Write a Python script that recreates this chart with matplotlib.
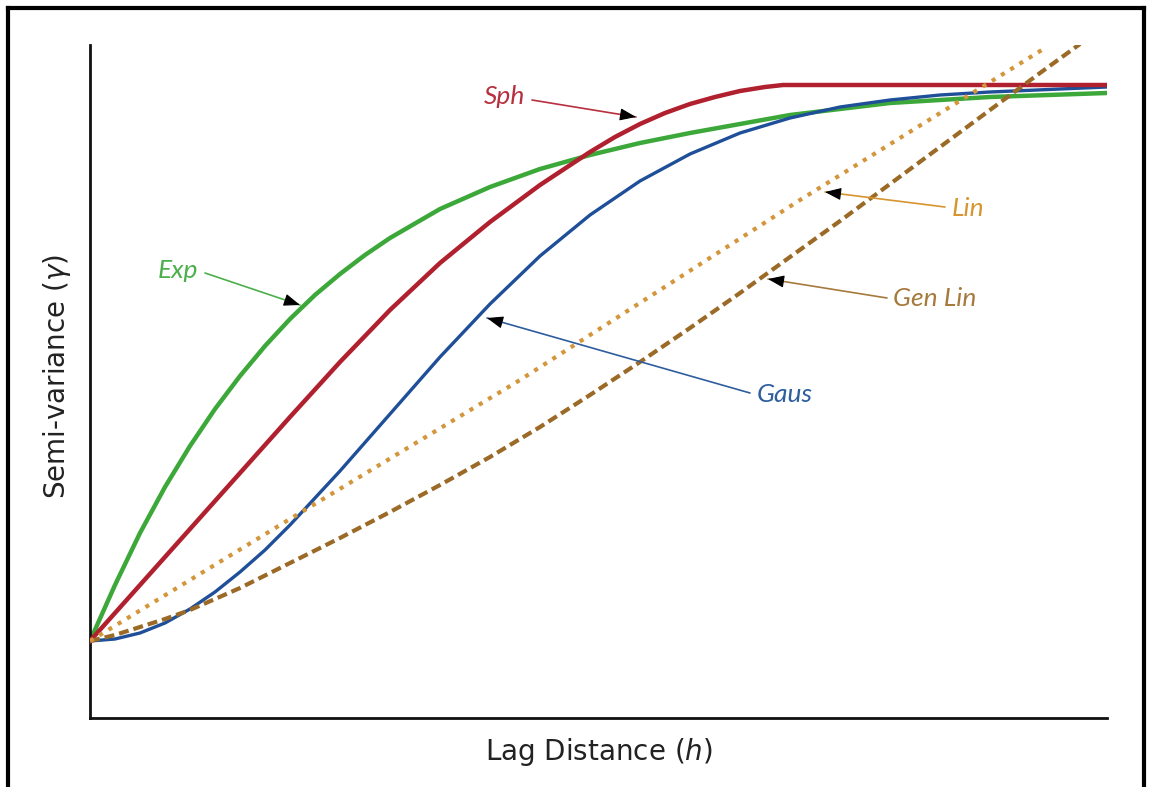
import numpy as np
import matplotlib
matplotlib.use("Agg")
import matplotlib.pyplot as plt
from matplotlib.lines import Line2D

# ---- data (lag h, semi-variance gamma; arbitrary units) ----
exp_h = [0, 0.25, 0.5, 0.75, 1.0, 1.25, 1.5, 1.75, 2.0, 2.25, 2.5, 2.75, 3.0, 3.5, 4.0, 4.5,
         5.0, 5.5, 6.0, 7.0, 8.0, 9.0, 10.17]
exp_g = [0.77, 1.33, 1.85, 2.31, 2.72, 3.09, 3.42, 3.72, 3.99, 4.23, 4.44, 4.63, 4.80, 5.09, 5.31, 5.49,
         5.63, 5.75, 5.85, 6.03, 6.15, 6.21, 6.25]

sph_h = [0, 0.5, 1.0, 1.5, 2.0, 2.5, 3.0, 3.5, 4.0, 4.5, 5.0, 5.25, 5.5, 5.75, 6.0, 6.25, 6.5,
         6.75, 6.93, 10.17]
sph_g = [0.77, 1.33, 1.89, 2.45, 3.01, 3.56, 4.08, 4.55, 4.96, 5.33, 5.66, 5.81, 5.94, 6.05, 6.14, 6.21, 6.27,
         6.31, 6.33, 6.33]

gaus_h = [0, 0.25, 0.5, 0.75, 1.0, 1.25, 1.5, 1.75, 2.0, 2.5, 3.0, 3.5, 4.0, 4.5, 5.0, 5.5, 6.0,
          6.5, 7.0, 7.5, 8.0, 8.5, 9.0, 10.17]
gaus_g = [0.77, 0.79, 0.85, 0.95, 1.09, 1.26, 1.46, 1.68, 1.93, 2.47, 3.04, 3.61, 4.14, 4.62, 5.03, 5.37, 5.64,
          5.85, 6.00, 6.11, 6.18, 6.23, 6.26, 6.31]

lin_h = [0, 2.0, 4.3, 7.1, 9.55]
lin_g = [0.77, 1.99, 3.38, 5.18, 6.70]

genlin_h = [0, 0.25, 0.5, 0.75, 1.0, 1.5, 2.0, 2.5, 3.0, 3.5, 4.0, 4.5, 5.0, 5.5, 6.0, 6.5,
            7.0, 7.5, 8.0, 8.5, 9.0, 9.5, 9.9]
genlin_g = [0.77, 0.83, 0.91, 0.99, 1.08, 1.30, 1.55, 1.80, 2.06, 2.33, 2.61, 2.91, 3.23, 3.56, 3.90, 4.25,
            4.61, 4.97, 5.34, 5.71, 6.08, 6.45, 6.74]

labels = ["Exp", "Sph", "Gaus", "Lin", "Gen Lin"]

# colours
C_EXP, C_SPH, C_GAUS = "#3da83a", "#b0202e", "#1e4f98"
C_LIN, C_GEN = "#d4963c", "#9b6a26"
T_EXP, T_SPH, T_GAUS, T_LIN, T_GEN = "#4caf4c", "#b8303f", "#2e5e9e", "#d6952f", "#a67a3c"

fig = plt.figure(figsize=(11.5, 7.87), dpi=100)
ax = fig.add_axes([90 / 1150, 69 / 787, 1017 / 1150, 673 / 787])

ax.plot(exp_h, exp_g, color=C_EXP, lw=3.2, solid_joinstyle="round", zorder=2)
ax.plot(gaus_h, gaus_g, color=C_GAUS, lw=2.4, solid_joinstyle="round", zorder=3)
ax.plot(sph_h, sph_g, color=C_SPH, lw=3.2, solid_joinstyle="round", zorder=4)
ax.plot(genlin_h, genlin_g, color=C_GEN, lw=3.0, linestyle=(0, (2.4, 1.2)), zorder=5)
ax.plot(lin_h, lin_g, color=C_LIN, lw=3.0, linestyle=(0, (1.0, 1.6)), zorder=6)

ax.set_xlim(0, 10.17)
ax.set_ylim(0, 6.73)
ax.set_xticks([])
ax.set_yticks([])
for s in ["top", "right"]:
    ax.spines[s].set_visible(False)
for s in ["left", "bottom"]:
    ax.spines[s].set_linewidth(2.0)
    ax.spines[s].set_color("#111111")

plt.rcParams["mathtext.fontset"] = "dejavusans"
ax.set_xlabel(r"Lag Distance ($h$)", fontsize=20, color="#222222", va="center")
ax.xaxis.set_label_coords(0.5, -0.05)
ax.set_ylabel(r"Semi-variance ($\gamma$)", fontsize=20, color="#222222", va="center")
ax.yaxis.set_label_coords(-0.0325, 0.507)

# annotations: (label, text xy, ha, line start, arrow tip, text colour)
notes = [
    ("Exp", (1.08, 4.48), "right", (1.15, 4.45), (2.10, 4.13), T_EXP),
    ("Sph", (4.35, 6.21), "right", (4.42, 6.18), (5.46, 6.01), T_SPH),
    ("Gaus", (6.67, 3.23), "left", (6.60, 3.25), (3.97, 4.00), T_GAUS),
    ("Lin", (8.62, 5.10), "left", (8.55, 5.11), (7.35, 5.26), T_LIN),
    ("Gen Lin", (8.03, 4.20), "left", (7.97, 4.20), (6.78, 4.39), T_GEN),
]
for name, txy, ha, start, tip, col in notes:
    ax.text(txy[0], txy[1], name, ha=ha, va="center", fontsize=19,
            style="italic", family="Lato", color=col, zorder=8)
    ax.annotate("", xy=tip, xytext=start,
                arrowprops=dict(arrowstyle="-", color=col, lw=1.2,
                                shrinkA=0, shrinkB=0), zorder=7)
    dx, dy = tip[0] - start[0], tip[1] - start[1]
    d = np.hypot(dx, dy)
    back = (tip[0] - dx / d * 0.15, tip[1] - dy / d * 0.15)
    ax.annotate("", xy=tip, xytext=back,
                arrowprops=dict(arrowstyle="-|>,head_length=1.0,head_width=0.38",
                                color="black", lw=0.8, shrinkA=0, shrinkB=0), zorder=9)

# outer frame (bottom edge cropped in reference)
for xs, ys in [([8 / 1150, 8 / 1150], [0, 1 - 8 / 787]),
               ([1144 / 1150, 1144 / 1150], [0, 1 - 8 / 787]),
               ([8 / 1150, 1144 / 1150], [1 - 8 / 787, 1 - 8 / 787])]:
    fig.add_artist(Line2D(xs, ys, transform=fig.transFigure, color="black",
                          lw=3.0, solid_capstyle="projecting"))

fig.savefig("out.png", dpi=100)
